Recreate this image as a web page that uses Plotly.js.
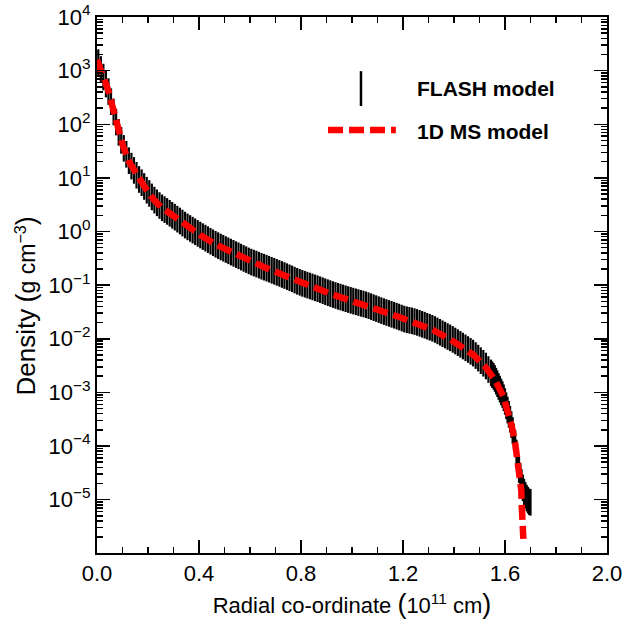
<!DOCTYPE html>
<html><head><meta charset="utf-8">
<script src="https://cdn.plot.ly/plotly-3.0.1.min.js"></script>
<style>html,body{margin:0;padding:0;background:#fff}#chart{width:627px;height:633px}</style>
</head><body><div id="chart"></div>
<script>
// FLASH model (cell samples) - radius in 1e11 cm, density in g cm^-3
const flashRadius = [
0.005,0.015,0.025,0.035,0.045,0.055,0.065,0.075,0.085,0.095,
0.105,0.115,0.125,0.135,0.145,0.155,0.165,0.175,0.185,0.195,
0.205,0.215,0.225,0.235,0.245,0.255,0.265,0.275,0.285,0.295,
0.305,0.315,0.325,0.335,0.345,0.355,0.365,0.375,0.385,0.395,
0.405,0.415,0.425,0.435,0.445,0.455,0.465,0.475,0.485,0.495,
0.505,0.515,0.525,0.535,0.545,0.555,0.565,0.575,0.585,0.595,
0.605,0.615,0.625,0.635,0.645,0.655,0.665,0.675,0.685,0.695,
0.705,0.715,0.725,0.735,0.745,0.755,0.765,0.775,0.785,0.795,
0.805,0.815,0.825,0.835,0.845,0.855,0.865,0.875,0.885,0.895,
0.905,0.915,0.925,0.935,0.945,0.955,0.965,0.975,0.985,0.995,
1.005,1.015,1.025,1.035,1.045,1.055,1.065,1.075,1.085,1.095,
1.105,1.115,1.125,1.135,1.145,1.155,1.165,1.175,1.185,1.195,
1.205,1.215,1.225,1.235,1.245,1.255,1.265,1.275,1.285,1.295,
1.305,1.315,1.325,1.335,1.345,1.355,1.365,1.375,1.385,1.395,
1.405,1.415,1.425,1.435,1.445,1.455,1.465,1.475,1.485,1.495,
1.505,1.515,1.525,1.535,1.545,
1.550,1.555,1.560,1.565,1.570,1.575,1.580,1.585,1.590,1.595,
1.600,1.605,1.610,1.615,1.620,1.625,1.630,1.635,1.640,1.645,
1.650,1.655,1.660,1.665,1.670,1.675,1.680,1.685,1.690,1.695,1.700];
const flashDensity = [
1410,1050,759,562,407,263,170,110,70.8,50.1,
35.5,27.5,20.9,16.6,13.8,11.2,9.33,8.13,6.92,5.89,
5.13,4.42,3.85,3.43,3.05,2.77,2.56,2.37,2.19,2.01,
1.85,1.70,1.57,1.44,1.32,1.22,1.14,1.06,0.989,0.923,
0.859,0.804,0.753,0.705,0.659,0.617,0.578,0.545,0.515,0.488,
0.461,0.437,0.413,0.392,0.371,0.352,0.333,0.315,0.299,0.283,
0.269,0.258,0.247,0.236,0.225,0.216,0.207,0.198,0.189,0.181,
0.173,0.166,0.158,0.151,0.144,0.137,0.131,0.124,0.118,0.113,
0.108,0.104,0.100,0.0964,0.0927,0.0891,0.0857,0.0822,0.0787,0.0755,
0.0724,0.0695,0.0667,0.0643,0.0619,0.0598,0.0578,0.0557,0.0538,0.0520,
0.0504,0.0489,0.0473,0.0458,0.0445,0.0431,0.0414,0.0397,0.0380,0.0365,
0.0349,0.0335,0.0321,0.0309,0.0297,0.0286,0.0275,0.0264,0.0254,0.0243,
0.0233,0.0226,0.0221,0.0216,0.0209,0.0202,0.0194,0.0186,0.0179,0.0171,
0.0164,0.0157,0.0149,0.0140,0.0132,0.0124,0.0117,0.0110,0.0104,0.00973,
0.00908,0.00847,0.00789,0.00731,0.00678,0.00630,0.00583,0.00541,0.00486,0.00436,
0.00390,0.00349,0.00310,0.00267,0.00231,
0.00214,0.00200,0.00182,0.00162,0.00145,0.00129,0.00115,0.00102,9.12e-4,7.94e-4,
6.76e-4,5.62e-4,4.68e-4,3.89e-4,3.16e-4,2.51e-4,1.95e-4,1.48e-4,1.12e-4,7.41e-5,
5.13e-5,3.63e-5,2.75e-5,2.09e-5,1.66e-5,1.38e-5,1.20e-5,1.07e-5,9.77e-6,9.12e-6,8.91e-6];

// 1D MS model
const msRadius = [0.000,0.011,0.024,0.043,0.063,0.082,0.102,0.128,0.161,0.194,0.222,0.250,0.285,0.351,0.403,0.469,0.534,0.600,0.665,0.730,0.796,0.861,0.927,0.992,1.058,1.123,1.182,1.215,1.319,1.398,1.424,1.476,1.522,1.561,1.594,1.614,1.627,1.640,1.647,1.657,1.664,1.666,1.670,1.672];
const msDensity = [1585,1202,776,447,186,79.4,38.9,19.1,10.0,6.03,3.98,2.88,2.19,1.26,0.871,0.562,0.394,0.275,0.207,0.155,0.112,0.0871,0.0661,0.0525,0.0427,0.0324,0.0257,0.0224,0.0145,0.00891,0.00741,0.00501,0.00302,0.00170,0.000832,0.000407,0.000229,0.000112,6.31e-5,3.09e-5,1.48e-5,7.24e-6,3.55e-6,1.86e-6];

const seriesNames = ['FLASH model', '1D MS model'];
const yTickVals = [1e-5,1e-4,1e-3,1e-2,1e-1,1e0,1e1,1e2,1e3,1e4];
const yTickText = ['10<sup>\u22125</sup>','10<sup>\u22124</sup>','10<sup>\u22123</sup>','10<sup>\u22122</sup>','10<sup>\u22121</sup>','10<sup>0</sup>','10<sup>1</sup>','10<sup>2</sup>','10<sup>3</sup>','10<sup>4</sup>'];
const PAREN_L = '<span style="font-size:27px">(</span>';
const PAREN_R = '<span style="font-size:27px">)</span>';
const xTitle = 'Radial co-ordinate ' + PAREN_L + '10<sup>11</sup> cm' + PAREN_R;
const yTitle = '<span style="font-size:26px">Density</span> ' + PAREN_L + 'g cm<sup>\u22123</sup>' + PAREN_R;

const FONT = 'Liberation Sans, Arial, Helvetica, sans-serif';

const traces = [
  {x: flashRadius, y: flashDensity, name: seriesNames[0], type: 'scatter', mode: 'markers',
   marker: {symbol: 'line-ns', size: 19, color: '#000', line: {color: '#000', width: 2.2}}},
  {x: msRadius, y: msDensity, name: seriesNames[1], type: 'scatter', mode: 'lines',
   line: {color: '#ff0000', width: 6.5, dash: '15px,6px'}}
];

const axisCommon = {ticks: 'inside', tickcolor: '#000', tickwidth: 1.5, ticklen: 13,
  showline: true, linecolor: '#000', linewidth: 2, mirror: 'ticks', showgrid: false, zeroline: false,
  tickfont: {family: FONT, size: 22, color: '#000'}};

const layout = {
  width: 627, height: 633,
  margin: {l: 97, r: 20, t: 17, b: 80},
  paper_bgcolor: '#fff', plot_bgcolor: '#fff',
  showlegend: false,
  font: {family: FONT, size: 22, color: '#000'},
  xaxis: Object.assign({}, axisCommon, {
    range: [0, 2], tick0: 0, dtick: 0.4, tickformat: '.1f',
    minor: {dtick: 0.1, tick0: 0, ticks: 'inside', ticklen: 6, tickwidth: 1.5, tickcolor: '#000', showgrid: false},
    title: {text: xTitle, font: {family: FONT, size: 22, color: '#000'}, standoff: 12}
  }),
  yaxis: Object.assign({}, axisCommon, {
    type: 'log', range: [-5.995, 4], tickmode: 'array', tickvals: yTickVals, ticktext: yTickText,
    minor: {tickmode: 'linear', dtick: 'D1', ticks: 'inside', ticklen: 6, tickwidth: 1.5, tickcolor: '#000', showgrid: false}
  }),
  shapes: [
    {type: 'line', xref: 'paper', yref: 'paper', x0: 0.5176, x1: 0.5176, y0: 0.834, y1: 0.899,
     line: {color: '#000', width: 2.5}},
    {type: 'line', xref: 'paper', yref: 'paper', x0: 0.453, x1: 0.586, y0: 0.789, y1: 0.789,
     line: {color: '#ff0000', width: 6.5, dash: '15px,6px'}}
  ],
  annotations: [
    {text: yTitle, xref: 'paper', yref: 'paper', x: -0.138, y: 0.461, textangle: -90,
     xanchor: 'center', yanchor: 'middle', showarrow: false, font: {family: FONT, size: 23, color: '#000'}},
    {text: '<b>' + seriesNames[0] + '</b>', xref: 'paper', yref: 'paper', x: 0.6235, y: 0.8675,
     xanchor: 'left', yanchor: 'middle', showarrow: false, font: {family: FONT, size: 21, color: '#000'}},
    {text: '<b>' + seriesNames[1] + '</b>', xref: 'paper', yref: 'paper', x: 0.6235, y: 0.787,
     xanchor: 'left', yanchor: 'middle', showarrow: false, font: {family: FONT, size: 21, color: '#000'}}
  ]
};

Plotly.newPlot('chart', traces, layout, {staticPlot: true, displayModeBar: false});
</script>
</body></html>
